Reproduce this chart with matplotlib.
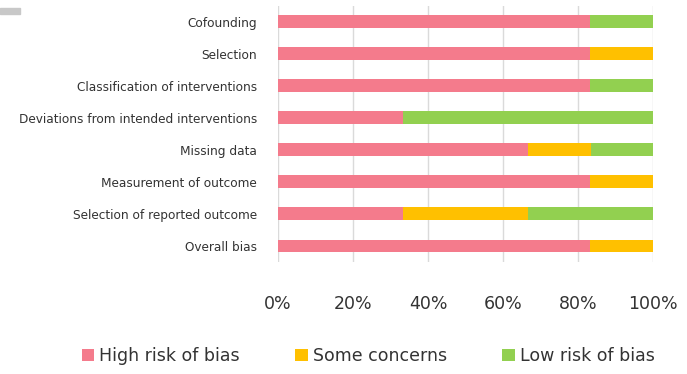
import numpy as np
import matplotlib.pyplot as plt
from matplotlib.patches import Rectangle

# Risk of bias domains (top to bottom) and share of studies per judgement, %
domains = [
    "Cofounding",
    "Selection",
    "Classification of interventions",
    "Deviations from intended interventions",
    "Missing data",
    "Measurement of outcome",
    "Selection of reported outcome",
    "Overall bias",
]
high_risk = [83.3, 83.3, 83.3, 33.3, 66.7, 83.3, 33.3, 83.3]
some_concerns = [0, 16.7, 0, 0, 16.7, 16.7, 33.3, 16.7]
low_risk = [16.7, 0, 16.7, 66.7, 16.7, 0, 33.4, 0]

series = [
    ("High risk of bias", high_risk, "#F47B8C"),
    ("Some concerns", some_concerns, "#FFC000"),
    ("Low risk of bias", low_risk, "#92D050"),
]

fig = plt.figure(figsize=(6.87, 3.74), dpi=100)
ax = fig.add_axes([278 / 687, (374 - 262) / 374, 375 / 687, (262 - 5.5) / 374])

y = np.arange(len(domains))
left = np.zeros(len(domains))
for label, vals, color in series:
    ax.barh(y, vals, left=left, height=0.4, color=color, label=label, zorder=3)
    left += np.array(vals)

ax.set_ylim(len(domains) - 0.5, -0.5)
ax.set_xlim(0, 100)
ax.set_xticks(np.arange(0, 101, 20))
ax.set_xticklabels([f"{v}%" for v in range(0, 101, 20)], fontsize=12.5, color="#333333")
ax.set_yticks(y)
ax.set_yticklabels(domains, fontsize=8.7, color="#333333")
ax.tick_params(axis="x", length=0, pad=24)
ax.tick_params(axis="y", length=0, pad=15)
ax.grid(axis="x", color="#dadada", linewidth=1, zorder=0)
for s in ax.spines.values():
    s.set_visible(False)

fig.legend(loc="center", bbox_to_anchor=(0.536, (374 - 356) / 374), ncol=3,
           frameon=False, fontsize=12.5, handlelength=0.7, handleheight=0.7,
           handletextpad=0.3, columnspacing=3.2, labelcolor="#333333")

# small grey tab in the top-left corner
fig.patches.append(Rectangle((0, 1 - 14 / 374), 20 / 687, 6 / 374,
                             transform=fig.transFigure, color="#c8c8c8"))

fig.savefig("out.png", dpi=100)
